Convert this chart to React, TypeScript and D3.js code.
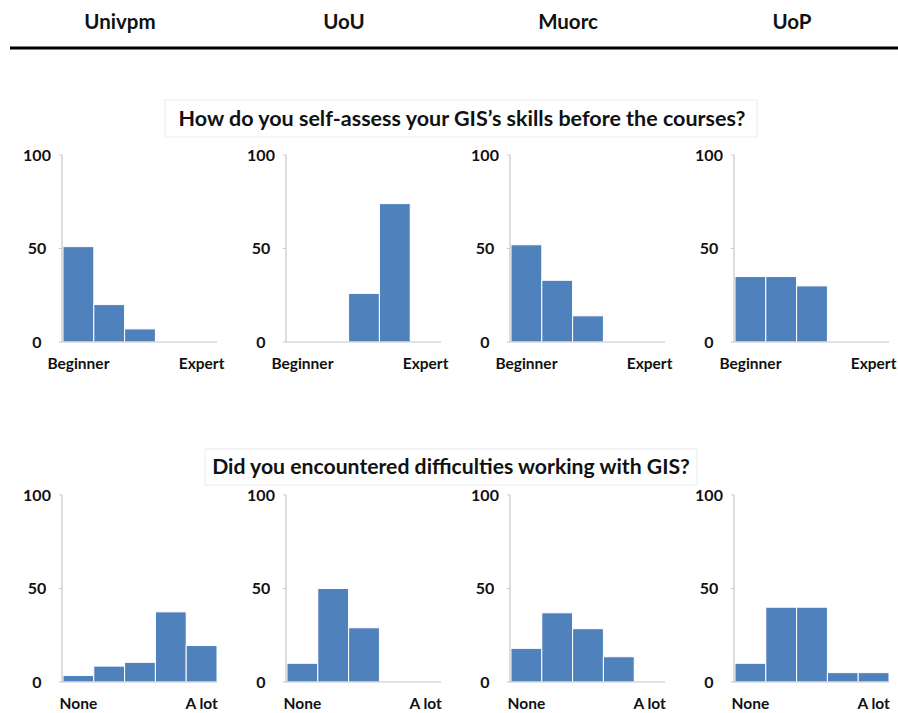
import React, { useEffect, useRef } from 'react';
import * as d3 from 'd3';

// Universities (column headers)
const universities = ['Univpm', 'UoU', 'Muorc', 'UoP'];

// Five answer levels per question, only the ends are labelled
const levels = ['1', '2', '3', '4', '5'];

const skillTitle = 'How do you self-assess your GIS\u2019s skills before the courses?';
const skillEnds = ['Beginner', 'Expert'];
const skillUnivpm = [51, 20, 7, 0, 0];
const skillUoU = [0, 0, 26, 74, 0];
const skillMuorc = [52, 33, 14, 0, 0];
const skillUoP = [35, 35, 30, 0, 0];

const diffTitle = 'Did you encountered difficulties working with GIS?';
const diffEnds = ['None', 'A lot'];
const diffUnivpm = [3.5, 8.5, 10.5, 37.5, 19.5];
const diffUoU = [10, 50, 29, 0, 0];
const diffMuorc = [18, 37, 28.5, 13.5, 0];
const diffUoP = [10, 40, 40, 5, 5];

const yTicks = [0, 50, 100];

const W = 898;
const H = 713;
const FONT = 'Lato, "Open Sans", sans-serif';

const App = () => {
  const svgRef = useRef(null);

  useEffect(() => {
    const svg = d3.select(svgRef.current);
    svg.selectAll('*').remove();

    const rows = [
      { title: skillTitle, ends: skillEnds, values: [skillUnivpm, skillUoU, skillMuorc, skillUoP], top: 155, zero: 342, titleX: 462, titleY: 118, box: [165, 100, 592, 37], size: 21.5 },
      { title: diffTitle, ends: diffEnds, values: [diffUnivpm, diffUoU, diffMuorc, diffUoP], top: 495, zero: 682, titleX: 451, titleY: 467, box: [205, 449, 492, 36], size: 21.2 }
    ];

    // panel origins across the page
    const panelX = d3.scaleLinear().domain([0, universities.length - 1]).range([62, 734]);
    const panelW = 155;

    // Header row
    svg.append('g')
      .selectAll('text')
      .data(universities)
      .enter()
      .append('text')
      .attr('x', (d, i) => panelX(i) + 58)
      .attr('y', 29)
      .attr('text-anchor', 'middle')
      .style('font-family', FONT)
      .style('font-weight', 700)
      .style('font-size', '20.5px')
      .style('fill', '#111')
      .text(d => d);

    svg.append('line')
      .attr('x1', 10).attr('x2', W)
      .attr('y1', 48).attr('y2', 48)
      .attr('stroke', '#000')
      .attr('stroke-width', 3);

    rows.forEach(row => {
      // title with faint frame
      svg.append('rect')
        .attr('x', row.box[0]).attr('y', row.box[1])
        .attr('width', row.box[2]).attr('height', row.box[3])
        .attr('fill', '#fff')
        .attr('stroke', '#ececec')
        .attr('stroke-width', 1);

      svg.append('text')
        .attr('x', row.titleX)
        .attr('y', row.titleY)
        .attr('dy', '0.35em')
        .attr('text-anchor', 'middle')
        .style('font-family', FONT)
        .style('font-weight', 700)
        .style('font-size', `${row.size}px`)
        .style('fill', '#111')
        .text(row.title);

      const y = d3.scaleLinear().domain([0, 100]).range([row.zero, row.top]);

      row.values.forEach((vals, i) => {
        const x0 = panelX(i);
        const x = d3.scaleBand().domain(levels).range([x0 + 1, x0 + panelW]).padding(0);
        const g = svg.append('g');

        // bars
        g.selectAll('rect')
          .data(vals.map((v, k) => ({ v, k })).filter(d => d.v > 0))
          .enter()
          .append('rect')
          .attr('x', d => x(levels[d.k]))
          .attr('y', d => y(d.v))
          .attr('width', x.bandwidth())
          .attr('height', d => y(0) - y(d.v))
          .attr('fill', '#4f81bd')
          .attr('stroke', '#fff')
          .attr('stroke-width', 1);

        // y axis
        g.append('line')
          .attr('x1', x0).attr('x2', x0)
          .attr('y1', y(100)).attr('y2', y(0))
          .attr('stroke', '#c6c6c6')
          .attr('stroke-width', 1.2);

        g.selectAll('.tick')
          .data(yTicks)
          .enter()
          .append('line')
          .attr('class', 'tick')
          .attr('x1', x0 - 3).attr('x2', x0)
          .attr('y1', d => y(d)).attr('y2', d => y(d))
          .attr('stroke', '#c6c6c6');

        g.selectAll('.ylab')
          .data(yTicks)
          .enter()
          .append('text')
          .attr('class', 'ylab')
          .attr('x', x0 - 25)
          .attr('y', d => y(d))
          .attr('dy', '0.35em')
          .attr('text-anchor', 'middle')
          .style('font-family', FONT)
          .style('font-weight', 700)
          .style('font-size', '16px')
          .style('fill', '#111')
          .text(d => d);

        // baseline
        g.append('line')
          .attr('x1', x0).attr('x2', x0 + panelW)
          .attr('y1', y(0)).attr('y2', y(0))
          .attr('stroke', '#c6c6c6')
          .attr('stroke-width', 1.2);

        // end labels
        g.selectAll('.xlab')
          .data([levels[0], levels[levels.length - 1]])
          .enter()
          .append('text')
          .attr('class', 'xlab')
          .attr('x', d => x(d) + x.bandwidth() / 2)
          .attr('y', y(0) + 22)
          .attr('dy', '0.35em')
          .attr('text-anchor', 'middle')
          .style('font-family', FONT)
          .style('font-weight', 700)
          .style('font-size', '15.5px')
          .style('fill', '#111')
          .text((d, k) => row.ends[k]);
      });
    });
  }, []);

  return (
    <svg
      ref={svgRef}
      width={W}
      height={H}
      style={{ position: 'absolute', left: 0, top: 0, background: '#fff' }}
    />
  );
};

export default App;
